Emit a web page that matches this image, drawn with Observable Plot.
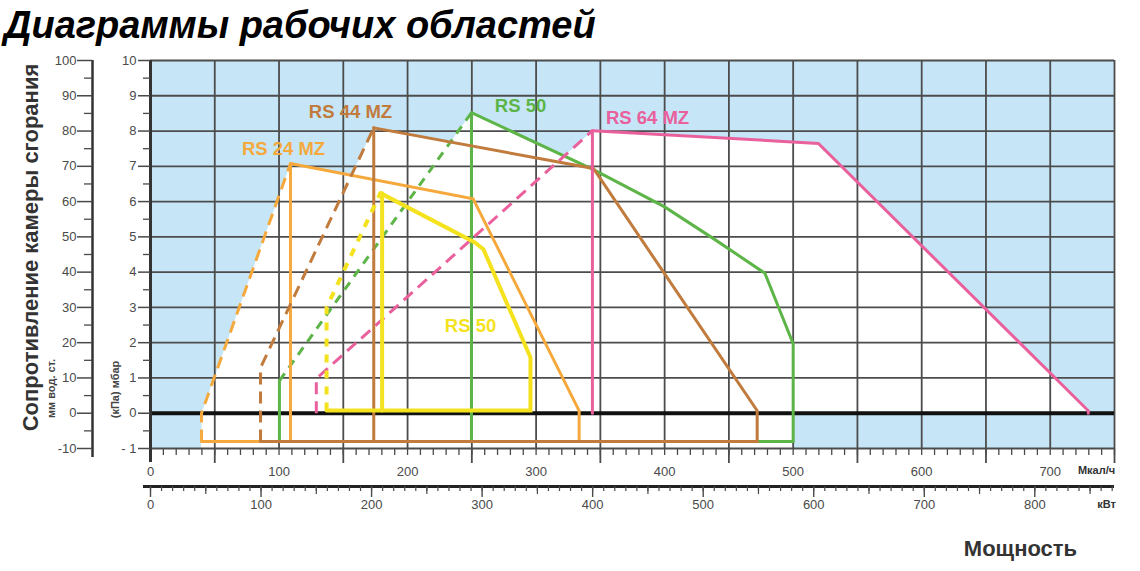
<!DOCTYPE html>
<html><head><meta charset="utf-8">
<script src="https://cdn.jsdelivr.net/npm/d3@7"></script>
<script src="https://cdn.jsdelivr.net/npm/@observablehq/plot@0.6"></script>
<style>
body{margin:0;background:#fff;width:1140px;height:571px;overflow:hidden;font-family:"Liberation Sans",Arial,sans-serif}
#title{height:50px;line-height:50px;font-size:38px;font-weight:bold;font-style:italic;padding-left:4px;white-space:nowrap;color:#000}
#chart svg{display:block}
</style></head><body>
<div id="title">Диаграммы рабочих областей</div>
<div id="chart"></div>
<script>
// ---------- data (x: Мкал/ч, y: мбар) ----------
const burnerNames = ["RS 24 MZ", "RS 44 MZ", "RS 50", "RS 64 MZ", "RS 50 (жёлт.)"];

const rs24Dashed   = [[39.7,-0.8],[39.7,0],[108.9,7.08]];
const rs24Solid    = [[108.9,7.08],[251,6.08],[333.5,0.07],[333.5,-0.8],[39.7,-0.8]];
const rs24Vertical = [[108.9,7.08],[108.9,-0.8]];

const rs44Dashed   = [[85.6,-0.8],[85.6,1.29],[173.7,8.09]];
const rs44Solid    = [[173.7,8.09],[344.6,6.94],[472,0.07],[472,-0.8],[85.6,-0.8]];
const rs44Vertical = [[173.7,8.09],[173.7,-0.8]];

const rs50Dashed   = [[100.3,0.92],[249.7,8.52]];
const rs50Solid    = [[249.7,8.52],[345,6.9],[400,5.85],[438,4.95],[478,3.97],[500,1.97],[500,-0.8],[100.3,-0.8],[100.3,0.92]];
const rs50Vertical = [[249.7,8.52],[249.7,-0.8]];

const rs64Dashed   = [[129,0],[129,0.98],[343.8,8.01]];
const rs64Solid    = [[343.8,8.01],[519.6,7.65],[729.6,0.07],[729.6,0]];
const rs64Vertical = [[343.8,8.01],[343.8,0]];

const rs50yDashed   = [[137,0.08],[137,3.0],[178.9,6.24]];
const rs50ySolid    = [[178.9,6.24],[252,4.85],[259,4.65],[295.6,1.58],[295.6,0.08],[137,0.08]];
const rs50yVertical = [[180.2,6.24],[180.2,0.08]];

const labelTexts = ["RS 24 MZ", "RS 44 MZ", "RS 50", "RS 64 MZ", "RS 50"];
const labelX = [103.5, 155.6, 287.9, 386.7, 249];
const labelY = [7.5, 8.53, 8.72, 8.38, 2.46];

const mcalTicks = [0,100,200,300,400,500,600,700];
const kwTicks = [0,100,200,300,400,500,600,700,800];
const mbarTicks = [-1,0,1,2,3,4,5,6,7,8,9,10];
const mbarTickLabels = ["- 1","0","1","2","3","4","5","6","7","8","9","10"];
const mmTicks = [-10,0,10,20,30,40,50,60,70,80,90,100];
const MCAL_PER_KW = 0.86;

// ---------- styles ----------
const colors = {"RS 24 MZ":"#f5a93c","RS 44 MZ":"#c07b3d","RS 50":"#5db548","RS 64 MZ":"#e9609c","RS 50 (жёлт.)":"#f4e21f"};
const BLUE = "#c6e6f7", GRID = "#4c4c4c", AX = "#4a4a4a";

// ---------- geometry ----------
const W = 1140, H = 521, MT = 10, MB = 123, ML = 150, MR = 26;
const kx = (W - ML - MR) / 750, ky = (H - MT - MB) / 11;
const X = px => (px - ML) / kx;            // page px -> Мкал/ч
const Y = py => 10 - (py - 50 - MT) / ky;   // page py -> мбар

const burners = [
  {name:"RS 50", dashed:rs50Dashed, solid:rs50Solid, vertical:rs50Vertical, w:3, dash:"9,7"},
  {name:"RS 24 MZ", dashed:rs24Dashed, solid:rs24Solid, vertical:rs24Vertical, w:3, dash:"12,7"},
  {name:"RS 44 MZ", dashed:rs44Dashed, solid:rs44Solid, vertical:rs44Vertical, w:3, dash:"12,7"},
  {name:"RS 64 MZ", dashed:rs64Dashed, solid:rs64Solid, vertical:rs64Vertical, w:3, dash:"12,7"},
  {name:"RS 50 (жёлт.)", dashed:rs50yDashed, solid:rs50ySolid, vertical:rs50yVertical, w:4, dash:"8,8"}
];

const fillRows = burners.flatMap(b => [...b.dashed, ...b.solid].map(p => ({name:b.name, x:p[0], y:p[1]})));

const marks = [];
marks.push(Plot.frame({fill: BLUE, stroke: "none"}));
marks.push(Plot.line(fillRows, {x:"x", y:"y", z:"name", fill:"white", stroke:"none", curve:"linear-closed"}));
marks.push(Plot.rect([0], {x1:39.7, x2:500, y1:-1, y2:-0.8, fill:"white"}));

// grid
marks.push(Plot.ruleX(d3.range(50, 751, 50), {x:d=>d, y1:-1, y2:10, stroke:GRID, strokeWidth:1.8}));
marks.push(Plot.ruleY(d3.range(-1, 11, 1), {y:d=>d, x1:0, x2:750, stroke:GRID, strokeWidth:1.8}));
marks.push(Plot.ruleY([0], {y:d=>d, x1:0, x2:750, stroke:"#111", strokeWidth:4}));

// burner outlines
for (const b of burners) {
  const c = colors[b.name];
  const base = {x:d=>d[0], y:d=>d[1], stroke:c, strokeWidth:b.w, strokeLinejoin:"miter", strokeMiterlimit:4};
  marks.push(Plot.line(b.dashed, {...base, strokeDasharray:b.dash, strokeLinecap:"butt"}));
  marks.push(Plot.line(b.vertical, {...base}));
  marks.push(Plot.line(b.solid, {...base}));
}

// burner labels
const labelColorKeys = ["RS 24 MZ","RS 44 MZ","RS 50","RS 64 MZ","RS 50 (жёлт.)"];
marks.push(Plot.text(d3.range(labelTexts.length), {
  x:i=>labelX[i], y:i=>labelY[i], text:i=>labelTexts[i], fill:i=>colors[labelColorKeys[i]],
  fontSize:18.5, fontWeight:"bold"
}));

// ---- Мкал/ч axis ----
marks.push(Plot.ruleX(d3.range(0, 751, 10), {x:d=>d, y1:Y(448), y2:Y(455), stroke:AX, strokeWidth:1.3}));
marks.push(Plot.ruleX(d3.range(50, 751, 100), {x:d=>d, y1:Y(448), y2:Y(463), stroke:GRID, strokeWidth:1.8}));
marks.push(Plot.text(mcalTicks, {x:d=>d, y:Y(471), text:d=>String(d), fontSize:13, fill:AX}));
marks.push(Plot.text(["Мкал/ч"], {x:X(1096), y:Y(470), text:d=>d, fontSize:11, fontWeight:"bold", fill:"#333"}));

// ---- кВт axis ----
marks.push(Plot.ruleY([0], {y:Y(486), x1:X(143), x2:750, stroke:"#222", strokeWidth:3}));
marks.push(Plot.ruleX(d3.range(0, 871, 10), {x:d=>d*MCAL_PER_KW, y1:Y(486), y2:Y(491), stroke:AX, strokeWidth:1.2}));
marks.push(Plot.ruleX(d3.range(50, 871, 100), {x:d=>d*MCAL_PER_KW, y1:Y(486), y2:Y(494), stroke:AX, strokeWidth:1.2}));
marks.push(Plot.ruleX(kwTicks, {x:d=>d*MCAL_PER_KW, y1:Y(486), y2:Y(497), stroke:AX, strokeWidth:1.4}));
marks.push(Plot.text(kwTicks, {x:d=>d*MCAL_PER_KW, y:Y(504), text:d=>String(d), fontSize:13, fill:AX}));
marks.push(Plot.text(["кВт"], {x:X(1106), y:Y(504), text:d=>d, fontSize:11, fontWeight:"bold", fill:"#333"}));

// ---- мбар axis ----
marks.push(Plot.ruleX([0], {x:d=>d, y1:Y(462), y2:10, stroke:"#333", strokeWidth:3}));
marks.push(Plot.ruleY(mbarTicks, {y:d=>d, x1:X(138), x2:0, stroke:AX, strokeWidth:1.5}));
marks.push(Plot.ruleY(d3.range(-0.5, 10, 1), {y:d=>d, x1:X(143), x2:0, stroke:AX, strokeWidth:1.3}));
marks.push(Plot.text(mbarTicks, {x:X(136), y:d=>d, text:(d,i)=>mbarTickLabels[i], textAnchor:"end", fontSize:13, fill:AX}));

// ---- мм вод. ст. axis ----
marks.push(Plot.ruleX([0], {x:X(92), y1:Y(457), y2:10, stroke:"#333", strokeWidth:2.5}));
marks.push(Plot.ruleY(mmTicks, {y:d=>d/10, x1:X(77), x2:X(92), stroke:AX, strokeWidth:1.5}));
marks.push(Plot.ruleY(d3.range(-5, 100, 10), {y:d=>d/10, x1:X(84), x2:X(92), stroke:AX, strokeWidth:1.3}));
marks.push(Plot.text(mmTicks, {x:X(76), y:d=>d/10, text:d=>String(d), textAnchor:"end", fontSize:13, fill:AX}));

// ---- axis titles ----
marks.push(Plot.text(["Сопротивление камеры сгорания"], {x:X(30), y:Y(247), text:d=>d, rotate:-90, fontSize:22, fontWeight:"bold", fill:"#333"}));
marks.push(Plot.text(["мм вод. ст."], {x:X(51), y:Y(388), text:d=>d, rotate:-90, fontSize:11, fontWeight:"bold", fill:"#444"}));
marks.push(Plot.text(["(кПа) мбар"], {x:X(115), y:Y(389), text:d=>d, rotate:-90, fontSize:11, fontWeight:"bold", fill:"#444"}));
marks.push(Plot.text(["Мощность"], {x:X(1020), y:Y(548), text:d=>d, fontSize:22, fontWeight:"bold", fill:"#333"}));

const chart = Plot.plot({
  width: W, height: H,
  marginTop: MT, marginBottom: MB, marginLeft: ML, marginRight: MR,
  x: {domain:[0,750], axis:null},
  y: {domain:[-1,10], axis:null},
  style: {fontFamily:"'Liberation Sans', Arial, sans-serif", background:"white", overflow:"visible"},
  marks
});
document.getElementById("chart").appendChild(chart);
</script>
</body></html>
